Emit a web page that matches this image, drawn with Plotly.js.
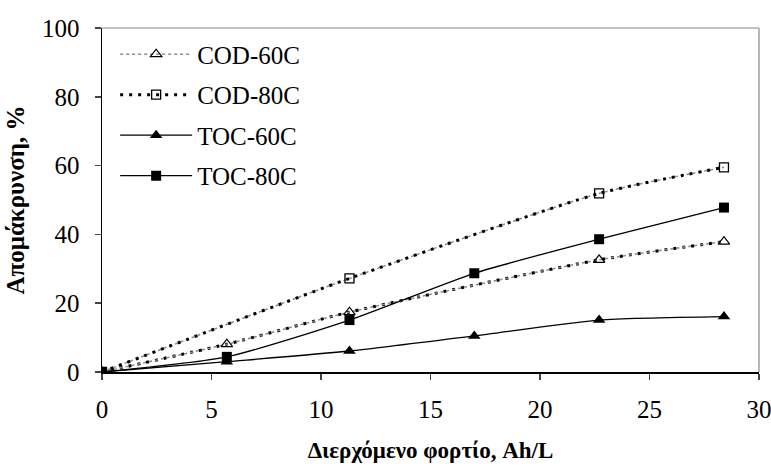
<!DOCTYPE html>
<html>
<head>
<meta charset="utf-8">
<script src="https://cdn.plot.ly/plotly-3.0.1.min.js"></script>
<style>html,body{margin:0;padding:0;background:#fff;}#chart{width:771px;height:468px;}</style>
</head>
<body>
<div id="chart"></div>
<script>
// Data
const codX60 = [0, 5.7, 11.3, 22.7, 28.4];
const cod60 = [0, 8.1, 17.4, 32.6, 37.9];
const codX80 = [0, 11.3, 22.7, 28.4];
const cod80 = [0, 27.2, 51.9, 59.5];
const tocX = [0, 5.7, 11.3, 17.0, 22.7, 28.4];
const toc60 = [0, 3.0, 6.1, 10.5, 15.1, 16.1];
const toc80 = [0, 4.4, 15.1, 28.7, 38.6, 47.8];
const names = ['COD-60C', 'COD-80C', 'TOC-60C', 'TOC-80C'];
const xTitle = 'Διερχόμενο φορτίο, Ah/L';
const yTitle = 'Απομάκρυνση, %';

const grayDash = {color: '#8a8a8a', width: 1.5, dash: '3px,3px', shape: 'spline', smoothing: 0.6};
const blackDot = {color: '#000', width: 3, dash: '3px,6px', shape: 'spline', smoothing: 0.6};
const solid = {color: '#000', width: 1.3, shape: 'spline', smoothing: 0.6};

const traces = [
  {x: codX60, y: cod60, mode: 'lines', line: blackDot, showlegend: false, hoverinfo: 'skip'},
  {x: codX80, y: cod80, mode: 'lines', line: grayDash, showlegend: false, hoverinfo: 'skip'},
  {x: codX60, y: cod60, name: names[0], legendgroup: 'a', mode: 'lines+markers', line: grayDash,
   marker: {symbol: 'triangle-up-open', size: 10, color: '#000', line: {width: 1.2, color: '#000'}}},
  {x: codX80, y: cod80, name: names[1], legendgroup: 'b', mode: 'lines+markers', line: blackDot,
   marker: {symbol: 'square-open', size: 9, color: '#000', line: {width: 1.3, color: '#000'}}},
  {x: tocX, y: toc60, name: names[2], legendgroup: 'c', mode: 'lines+markers', line: solid,
   marker: {symbol: 'triangle-up', size: 11, color: '#000'}},
  {x: tocX, y: toc80, name: names[3], legendgroup: 'd', mode: 'lines+markers', line: solid,
   marker: {symbol: 'square', size: 10, color: '#000'}}
];

const serif = 'Times New Roman, Liberation Serif, DejaVu Serif';
const layout = {
  width: 771, height: 468,
  margin: {l: 102, r: 12, t: 28, b: 96},
  paper_bgcolor: '#fff', plot_bgcolor: '#fff',
  font: {family: serif, color: '#000', size: 24},
  showlegend: true,
  legend: {x: 0.02, y: 0.99, xanchor: 'left', yanchor: 'top', traceorder: 'grouped',
    tracegroupgap: 5, bgcolor: 'rgba(0,0,0,0)', font: {family: serif, size: 25}, itemwidth: 72},
  xaxis: {range: [0, 30], dtick: 5, tick0: 0, ticks: 'outside', ticklen: 6, tickwidth: 1.5,
    showline: true, linecolor: '#000', linewidth: 1.5, showgrid: false, zeroline: false,
    ticklabeloverflow: 'allow', ticklabelstandoff: 8,
    tickfont: {family: serif, size: 25},
    title: {text: '<b>' + xTitle + '</b>', font: {family: serif, size: 23}, standoff: 20}},
  yaxis: {range: [0, 100], dtick: 20, tick0: 0, ticks: 'outside', ticklen: 6, tickwidth: 1.5,
    showline: true, linecolor: '#000', linewidth: 1.5, showgrid: false, zeroline: false,
    ticklabelstandoff: 10,
    tickfont: {family: serif, size: 25},
    title: {text: '<b>' + yTitle + '</b>', font: {family: serif, size: 25}, standoff: 10}},
  shapes: [
    {type: 'line', xref: 'paper', yref: 'paper', x0: 0, x1: 1, y0: 1, y1: 1, line: {color: '#888', width: 1.2}},
    {type: 'line', xref: 'paper', yref: 'paper', x0: 1, x1: 1, y0: 0, y1: 1, line: {color: '#888', width: 1.2}}
  ]
};

Plotly.newPlot('chart', traces, layout, {staticPlot: true, displayModeBar: false});
</script>
</body>
</html>
